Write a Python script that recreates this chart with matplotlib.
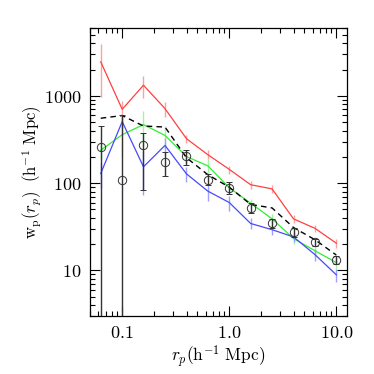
import numpy as np
import matplotlib
matplotlib.use("Agg")
import matplotlib.pyplot as plt
from matplotlib.ticker import FixedLocator, LogLocator, NullFormatter

rp = [0.063, 0.1, 0.158, 0.251, 0.398, 0.631, 1.0, 1.585, 2.512, 3.981, 6.310, 10.0]

red = [2460, 703, 1327, 716, 324, 212, 144, 96, 86, 39, 30.4, 20.5]
red_err = [1500, 180, 380, 140, 35, 25, 15, 10, 9, 4, 3, 2.5]

green = [238, 360, 469, 353, 202, 158, 88.5, 59, 39, 23.2, 16.8, 12.3]
green_err = [50, 160, 200, 100, 30, 30, 10, 6, 5, 3, 2.5, 2]

blue = [129, 508, 154, 271, 128, 81, 60, 34.5, 29.3, 24.2, 15.2, 8.9]
blue_err = [40, 80, 80, 60, 25, 18, 12, 5, 4, 3, 2.5, 1.5]

dashed = [555, 596, 452, 440, 196, 125, 90, 57, 52, 31, 22.5, 15]

obs = [262, 108, 273, 176, 204, 110, 88.5, 52, 35, 27.4, 21.2, 13.3]
obs_hi = [452, 599, 380, 229, 238, 127, 103, 59.5, 39, 30.4, 23.2, 14.8]
obs_lo = [0.001, 0.001, 83, 120, 161, 96, 76, 45, 31, 24.4, 19.2, 11.8]

plt.rcParams['mathtext.fontset'] = 'cm'
plt.rcParams['font.family'] = 'DejaVu Serif'

fig = plt.figure(figsize=(3.74, 3.74), dpi=100)
ax = fig.add_axes([0.2406, 0.155, 0.6874, 0.770])
ax.set_xscale('log')
ax.set_yscale('log')

for vals, errs, col, ecol in [(red, red_err, '#ff4040', '#ffa0a0'),
                              (green, green_err, '#30ee30', '#a0f5a0'),
                              (blue, blue_err, '#4848ff', '#a0a0ff')]:
    v = np.array(vals)
    e = np.array(errs)
    ax.errorbar(rp, v, yerr=e, color=col, ecolor=ecol, lw=0.9, elinewidth=1.0,
                capsize=0, zorder=3)

ax.plot(rp, dashed, color='black', lw=1.0, ls=(0, (4, 3)), zorder=4)

o = np.array(obs)
yerr = np.vstack([o - np.array(obs_lo), np.array(obs_hi) - o])
ax.errorbar(rp, o, yerr=yerr, fmt='o', mfc='none', mec='#333333', ms=6, mew=0.7,
            ecolor='#333333', elinewidth=1.0, capsize=2.5, capthick=1.0, zorder=5)

ax.set_xlim(0.05, 12.6)
ax.set_ylim(3, 6000)

ax.xaxis.set_major_locator(FixedLocator([0.1, 1.0, 10.0]))
ax.set_xticklabels([r'$\mathrm{0.1}$', r'$\mathrm{1.0}$', r'$\mathrm{10.0}$'])
ax.xaxis.set_minor_locator(LogLocator(base=10, subs=np.arange(2, 10)))
ax.xaxis.set_minor_formatter(NullFormatter())
ax.yaxis.set_major_locator(FixedLocator([10, 100, 1000]))
ax.set_yticklabels([r'$\mathrm{10}$', r'$\mathrm{100}$', r'$\mathrm{1000}$'])
ax.yaxis.set_minor_locator(LogLocator(base=10, subs=np.arange(2, 10)))
ax.yaxis.set_minor_formatter(NullFormatter())

ax.tick_params(which='both', direction='in', top=True, right=True, labelsize=13, width=0.8)
ax.tick_params(which='major', length=7, pad=6)
ax.tick_params(which='minor', length=3.5)
for s in ax.spines.values():
    s.set_linewidth(0.9)

ax.set_xlabel(r'$r_p(\mathrm{h^{-1}\ Mpc})$', fontsize=12.5, labelpad=1)
ax.set_ylabel(r'$\mathrm{w_p}(r_p)\ \ (\mathrm{h^{-1}\ Mpc})$', fontsize=12, labelpad=0)

fig.savefig('out.png', dpi=100)
